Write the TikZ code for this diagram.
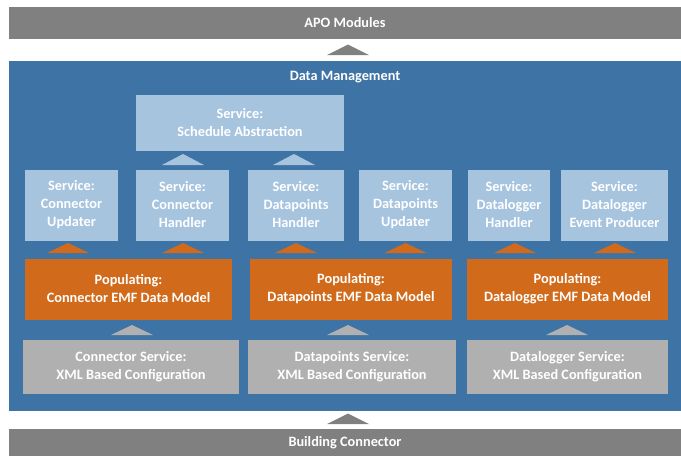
\documentclass[tikz,border=0pt]{standalone}
\usepackage{fontspec}
\setmainfont{Carlito}
\definecolor{bargray}{HTML}{808080}
\definecolor{dmblue}{HTML}{3E73A5}
\definecolor{lblue}{HTML}{A7C4DF}
\definecolor{orng}{HTML}{D16B1B}
\definecolor{lgray}{HTML}{B0B0B0}
\begin{document}
\begin{tikzpicture}[x=1pt,y=-1pt,
  every node/.style={inner sep=0pt, outer sep=0pt, text=white, align=center,
    font=\fontsize{14.3}{18}\selectfont\bfseries},
  blk/.style={rectangle, minimum width=#1},
  bar/.style={blk=672, fill=bargray, minimum height=32},
  svc/.style={blk=#1, fill=lblue, minimum height=71},
  pop/.style={blk=#1, fill=orng, minimum height=61},
  cfg/.style={blk=#1, fill=lgray, minimum height=54},
  tri/.style={fill=#1}]
\useasboundingbox (0,0) rectangle (681,456);
% outer bars
\node[bar] (apo) at (345,23) {\raisebox{-1pt}{APO Modules}};
\node[blk=672, fill=dmblue, minimum height=350] (dm) at (345,236) {};
\node (dmt) at (345,77.5) {Data Management};
\node[bar, minimum height=27] (bc) at (345,442.5) {\raisebox{-4pt}{Building Connector}};
% schedule
\node[blk=208, fill=lblue, minimum height=56] (sched) at (240,123) {Service:\\Schedule Abstraction};
% services
\node[svc=93]  (u1) at (71.5,205)  {Service:\\Connector\\Updater};
\node[svc=93]  (u2) at (182.5,205) {Service:\\Connector\\Handler};
\node[svc=96]  (u3) at (296,205)   {Service:\\Datapoints\\Handler};
\node[svc=93]  (u4) at (405.5,205) {Service:\\Datapoints\\Updater};
\node[svc=82]  (u5) at (509,205)   {Service:\\Datalogger\\Handler};
\node[svc=107] (u6) at (614.5,205) {Service:\\Datalogger\\Event Producer};
% populating
\node[pop=207] (p1) at (128.5,289) {Populating:\\Connector EMF Data Model};
\node[pop=202] (p2) at (351,289)   {Populating:\\Datapoints EMF Data Model};
\node[pop=201] (p3) at (567.5,289) {Populating:\\Datalogger EMF Data Model};
% configuration
\node[cfg=216] (g1) at (131,367)   {Connector Service:\\XML Based Configuration};
\node[cfg=208] (g2) at (352,367)   {Datapoints Service:\\XML Based Configuration};
\node[cfg=201] (g3) at (567.5,367) {Datalogger Service:\\XML Based Configuration};
% triangles
\fill[tri=bargray] (327,55) -- (348,44.5) -- (369,55) -- cycle;
\fill[tri=bargray] (327,424) -- (348,413.5) -- (369,424) -- cycle;
\foreach \cx in {183,294}
  \fill[tri=lblue] (\cx-21,165) -- (\cx,154) -- (\cx+21,165) -- cycle;
\foreach \cx in {68,183,296,405.5,515,615}
  \fill[tri=orng] (\cx-21,253) -- (\cx,243) -- (\cx+21,253) -- cycle;
\foreach \cx in {132,348,567}
  \fill[tri=lgray] (\cx-21,335) -- (\cx,325) -- (\cx+21,335) -- cycle;
\end{tikzpicture}
\end{document}
